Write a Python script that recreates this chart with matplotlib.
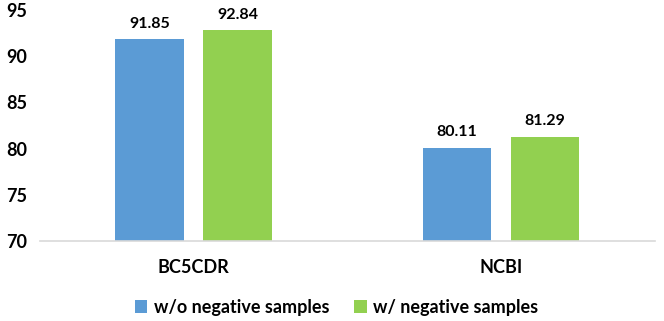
import matplotlib.pyplot as plt
import numpy as np

# data
categories = ['BC5CDR', 'NCBI']
without_neg = [91.85, 80.11]
with_neg = [92.84, 81.29]
series_names = ['w/o negative samples', 'w/ negative samples']

plt.rcParams['font.family'] = ['Lato', 'DejaVu Sans']
plt.rcParams['font.weight'] = 'bold'

fig = plt.figure(figsize=(6.64, 3.21), dpi=100)
ax = fig.add_axes([0.060, 0.249, 0.926, 0.720])

x = np.arange(len(categories))
w = 0.224
off = 0.143
b1 = ax.bar(x - off, without_neg, w, color='#5B9BD5', label=series_names[0])
b2 = ax.bar(x + off, with_neg, w, color='#92D050', label=series_names[1])

for bars, vals in [(b1, without_neg), (b2, with_neg)]:
    for b, v in zip(bars, vals):
        ax.annotate(f'{v:.2f}', (b.get_x() + b.get_width() / 2, v),
                    xytext=(0, 6), textcoords='offset points',
                    ha='center', va='bottom', fontsize=11.5, fontweight='bold')

ax.set_xlim(-0.5, 1.5)
ax.set_ylim(70, 95)
ax.set_yticks([70, 75, 80, 85, 90, 95])
ax.set_xticks(x)
ax.set_xticklabels(categories)
ax.tick_params(axis='both', length=0, labelsize=13)
ax.tick_params(axis='x', pad=13)
ax.tick_params(axis='y', pad=9)
for lbl in ax.get_xticklabels() + ax.get_yticklabels():
    lbl.set_fontweight('bold')

for s in ['top', 'right', 'left']:
    ax.spines[s].set_visible(False)
ax.spines['bottom'].set_color('#D9D9D9')
ax.spines['bottom'].set_linewidth(1.2)

fig.legend(loc='lower center', bbox_to_anchor=(0.507, -0.035), ncol=2, frameon=False,
           prop={'size': 13, 'weight': 'bold'}, handlelength=0.7, handleheight=0.7,
           handletextpad=0.35, columnspacing=1.4)

fig.savefig('out.png', dpi=100)
